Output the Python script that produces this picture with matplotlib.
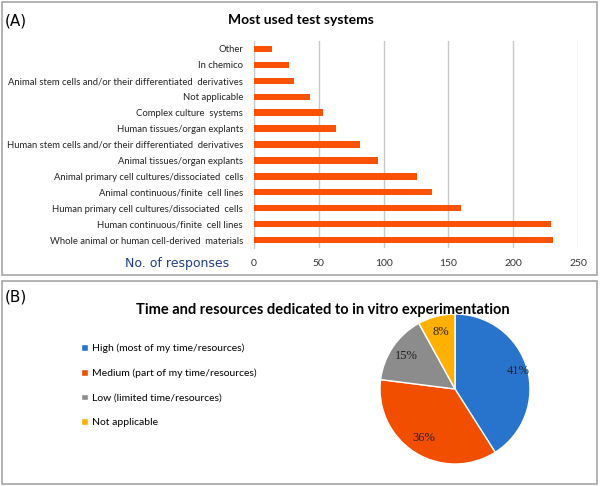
import matplotlib.pyplot as plt
from matplotlib.patches import Rectangle

# panel A data (bottom to top as drawn)
systems = [
    "Whole animal or human cell-derived  materials",
    "Human continuous/finite  cell lines",
    "Human primary cell cultures/dissociated  cells",
    "Animal continuous/finite  cell lines",
    "Animal primary cell cultures/dissociated  cells",
    "Animal tissues/organ explants",
    "Human stem cells and/or their differentiated  derivatives",
    "Human tissues/organ explants",
    "Complex culture  systems",
    "Not applicable",
    "Animal stem cells and/or their differentiated  derivatives",
    "In chemico",
    "Other",
]
responses = [231, 229, 160, 137, 126, 96, 82, 63, 53, 43, 31, 27, 14]
x_ticks = [0, 50, 100, 150, 200, 250]

# panel B data
levels = [
    "High (most of my time/resources)",
    "Medium (part of my time/resources)",
    "Low (limited time/resources)",
    "Not applicable",
]
shares = [41, 36, 15, 8]
level_colors = ["#2874CC", "#F24E00", "#8C8C8C", "#FFB000"]

font = ["Lato", "DejaVu Sans"]
W, H = 600, 486

fig = plt.figure(figsize=(6, 4.86), dpi=100)

# panel frames
for (x0, y0, x1, y1) in [(2, 2, 597, 275), (2, 281, 597, 484)]:
    fig.patches.append(Rectangle((x0 / W, 1 - y1 / H), (x1 - x0) / W, (y1 - y0) / H,
                                 transform=fig.transFigure, fill=False,
                                 edgecolor="#A6A6A6", lw=1.2))

# ---- panel A ----
fig.text(5 / W, 1 - 21 / H, "(A)", fontsize=11, va="center", ha="left")
fig.text(301 / W, 1 - 20 / H, "Most used test systems", fontsize=10, fontweight="bold",
         va="center", ha="center", family=font)

ax = fig.add_axes([254 / W, 1 - 248 / H, 324 / W, 207 / H])
ax.barh(range(len(systems)), responses, height=0.4, color="#FA5205", zorder=3)
ax.set_yticks(range(len(systems)))
ax.set_yticklabels(systems, fontsize=6.8, family=font, color="#222222")
ax.set_ylim(-0.5, len(systems) - 0.5)
ax.set_xlim(0, 250)
ax.set_xticks(x_ticks)
ax.set_xticklabels([str(t) for t in x_ticks], fontsize=7.5, family=font, color="#333333")
ax.tick_params(length=0, pad=8)
ax.tick_params(axis="y", pad=8)
ax.grid(axis="x", color="#C8C8C8", lw=1, zorder=0)
for s in ["top", "right", "bottom"]:
    ax.spines[s].set_visible(False)
ax.spines["left"].set_color("#C8C8C8")
fig.text(177 / W, 1 - 263 / H, "No. of responses", fontsize=9, color="#1F3C88",
         va="center", ha="center", family=["DejaVu Sans"])

# ---- panel B ----
fig.text(5 / W, 1 - 297 / H, "(B)", fontsize=11, va="center", ha="left")
fig.text(323 / W, 1 - 310 / H, "Time and resources dedicated to in vitro experimentation",
         fontsize=10.5, fontweight="bold", va="center", ha="center", family=font)

axp = fig.add_axes([380 / W, 1 - 464 / H, 150 / W, 150 / H])
wedges, _, autotexts = axp.pie(shares, colors=level_colors, startangle=90, counterclock=False,
                               autopct="%d%%", pctdistance=0.78,
                               wedgeprops=dict(edgecolor="white", linewidth=1),
                               textprops=dict(fontsize=9, family=["Liberation Serif"], color="#222222"))
# the largest slice label sits further out in the reference
x, y = autotexts[0].get_position()
autotexts[0].set_position((x * 1.12, y * 1.12))
axp.set_xlim(-1.0, 1.0)
axp.set_ylim(-1.0, 1.0)
axp.set_aspect("equal")

fig.legend(wedges, levels, loc="upper left", bbox_to_anchor=(72 / W, 1 - 334 / H),
           frameon=False, prop=dict(family=font, size=7.5),
           handlelength=0.6, handleheight=0.6, handletextpad=0.4, labelspacing=1.5)

fig.savefig("out.png", dpi=100)
